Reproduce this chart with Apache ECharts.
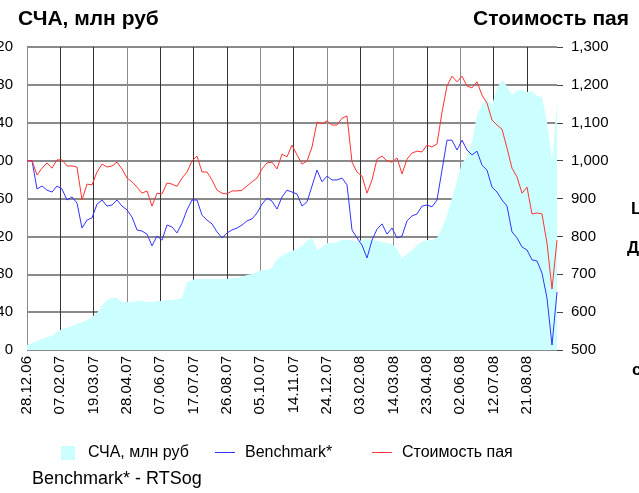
<!DOCTYPE html>
<html>
<head>
<meta charset="utf-8">
<script src="https://cdn.jsdelivr.net/npm/echarts@6/dist/echarts.min.js"></script>
<style>
  html, body { margin: 0; padding: 0; background: #fff; }
  #main { width: 639px; height: 493px; }
</style>
</head>
<body>
<div id="main"></div>
<script>
// подписи оси дат (шаг 40 дней)
var tickLabels = ['28.12.06', '07.02.07', '19.03.07', '28.04.07', '07.06.07', '17.07.07', '26.08.07', '05.10.07',
  '14.11.07', '24.12.07', '03.02.08', '14.03.08', '23.04.08', '02.06.08', '12.07.08', '21.08.08'];
var dayStep = 6; // точки через каждые 6 дней от 28.12.06

// СЧА, млн руб (левая ось)
var scha = [5.3, 7.4, 9.5, 11.6, 13.7, 14.8, 19, 22.2, 23.2, 25.3,
  27.5, 29.6, 31.7, 34.8, 39.1, 46.5, 52.8, 54.9, 54.9, 50.7,
  50.7, 50.7, 51.7, 51.7, 50.7, 50.7, 51.7, 51.7, 52.8, 52.8,
  53.9, 54.9, 71.8, 73.9, 74.9, 74.9, 74.9, 74.9, 74.9, 74.9,
  74.9, 76, 76, 77, 79.2, 80.3, 82.4, 84.5, 84.5, 86.6,
  96.1, 99.3, 102.4, 104.5, 106.6, 109.8, 115.1, 118.2, 105.6, 108.7,
  113, 113, 114, 116.2, 116.2, 116.2, 114, 116.2, 117.2, 116.2,
  115.1, 114, 113, 112, 106.6, 97.2, 101.4, 105.6, 110.9, 114,
  116.2, 116.2, 118.3, 128.8, 142.6, 160.5, 178.5, 197.5, 203.8, 219.6,
  248, 259.6, 264.9, 258.7, 276.7, 285, 278.8, 269.3, 273.5, 274.6,
  272.5, 273.5, 268.3, 267.2, 240.2, 200, 260.5];

// Benchmark* (правая ось)
var bench = [1000, 1000, 925, 933, 922, 917, 933, 925, 896, 904,
  888, 822, 843, 849, 885, 896, 880, 883, 896, 880,
  870, 851, 817, 814, 806, 775, 801, 790, 830, 825,
  809, 835, 870, 896, 896, 856, 843, 833, 812, 796,
  809, 817, 822, 830, 841, 846, 862, 885, 901, 893,
  872, 904, 922, 917, 912, 880, 891, 933, 975, 944,
  959, 949, 949, 954, 936, 817, 796, 777, 743, 790,
  819, 833, 806, 822, 796, 801, 841, 854, 859, 880,
  883, 878, 896, 975, 1054, 1054, 1028, 1054, 1028, 1015,
  1025, 988, 975, 930, 917, 896, 880, 812, 796, 772,
  764, 738, 735, 703, 637, 513, 653];

// Стоимость пая (правая ось)
var pai = [1000, 1000, 962, 980, 994, 980, 1002, 1002, 986, 986,
  983, 896, 938, 936, 970, 991, 983, 986, 996, 978,
  954, 944, 930, 914, 920, 880, 914, 912, 941, 938,
  932, 954, 970, 999, 1012, 970, 970, 949, 922, 914,
  912, 920, 920, 922, 933, 944, 954, 978, 994, 996,
  978, 1017, 1010, 1041, 1015, 991, 999, 1036, 1102, 1097,
  1105, 1094, 1094, 1112, 1118, 996, 970, 959, 914, 949,
  1004, 1012, 999, 996, 1007, 965, 1004, 1020, 1025, 1023,
  1041, 1036, 1044, 1128, 1197, 1223, 1208, 1223, 1197, 1192,
  1208, 1173, 1152, 1107, 1094, 1083, 1033, 980, 957, 914,
  930, 859, 862, 859, 782, 661, 790];

function toPairs(arr) {
  return arr.map(function (v, i) { return [i * dayStep, v]; });
}

var font = 'Liberation Sans';
var chart = echarts.init(document.getElementById('main'));

// цвета вертикальных линий сетки: часть светлее, последняя (край) не видна
var lightLines = [0, 3, 7, 9, 11, 13];
var vColors = [];
for (var i = 0; i < tickLabels.length; i++) vColors.push(lightLines.indexOf(i) >= 0 ? '#8a8a8a' : '#333');
vColors.push('rgba(0,0,0,0)');

var legendBase = {
  top: 445,
  padding: 0,
  itemWidth: 28,
  itemHeight: 14,
  selectedMode: false,
  itemStyle: { borderWidth: 0 },
  textStyle: { fontFamily: font, fontSize: 16, color: '#000' }
};

var option = {
  backgroundColor: '#fff',
  animation: false,
  title: [
    { text: 'СЧА, млн руб', left: 18, top: 9, padding: 0,
      textStyle: { fontFamily: font, fontWeight: 'bold', fontSize: 21, color: '#000' } },
    { text: 'Стоимость пая', left: 473, top: 9, padding: 0,
      textStyle: { fontFamily: font, fontWeight: 'bold', fontSize: 21, color: '#000' } },
    { text: 'Benchmark* - RTSog', left: 32, top: 470, padding: 0,
      textStyle: { fontFamily: font, fontWeight: 'normal', fontSize: 18, color: '#000' } }
  ],
  legend: [
    echarts.util.merge({ left: 55, data: [{ name: 'СЧА, млн руб', icon: 'path://M0,0L0,0M28,14L28,14M6,0h14v14h-14z' }] }, legendBase),
    echarts.util.merge({ left: 212, data: [{ name: 'Benchmark*', icon: 'path://M0,0L0,0M28,14L28,14M3,6h20v1h-20z' }] }, legendBase),
    echarts.util.merge({ left: 369, data: [{ name: 'Стоимость пая', icon: 'path://M0,0L0,0M28,14L28,14M3,6h20v1h-20z' }] }, legendBase)
  ],
  graphic: [
    { type: 'text', style: { x: 631, y: 209, text: 'L', font: 'bold 17px "Liberation Sans"', fill: '#000', verticalAlign: 'middle' } },
    { type: 'text', style: { x: 627, y: 248, text: 'Д', font: 'bold 17px "Liberation Sans"', fill: '#000', verticalAlign: 'middle' } },
    { type: 'text', style: { x: 632, y: 370, text: 'с', font: 'bold 17px "Liberation Sans"', fill: '#000', verticalAlign: 'middle' } }
  ],
  grid: { left: 27, right: 82, top: 47, bottom: 143, containLabel: false, outerBoundsMode: 'none' },
  xAxis: {
    type: 'value',
    min: 0,
    max: 636,
    interval: 40,
    axisLine: { show: false },
    axisTick: { show: false },
    axisLabel: {
      rotate: 90,
      margin: 6,
      fontFamily: font,
      fontSize: 15,
      color: '#000',
      showMaxLabel: false,
      formatter: function (v) { return tickLabels[v / 40] || ''; }
    },
    splitLine: { show: true, lineStyle: { color: vColors, width: 1 } }
  },
  yAxis: [
    {
      type: 'value',
      min: 0,
      max: 320,
      interval: 40,
      axisLine: { show: false },
      axisTick: { show: false },
      axisLabel: { margin: 14, fontFamily: font, fontSize: 15, color: '#000' },
      splitLine: { show: true, lineStyle: { color: '#8a8a8a', width: 2 } }
    },
    {
      type: 'value',
      min: 500,
      max: 1300,
      interval: 100,
      axisLine: { show: false },
      axisTick: { show: true, length: 6, lineStyle: { color: '#444' } },
      axisLabel: {
        margin: 14, fontFamily: font, fontSize: 15, color: '#000',
        formatter: function (v) {
          return v >= 1000 ? Math.floor(v / 1000) + ',' + String(v % 1000).padStart(3, '0') : String(v);
        }
      },
      splitLine: { show: false }
    }
  ],
  series: [
    {
      name: 'СЧА, млн руб',
      type: 'line',
      yAxisIndex: 0,
      symbol: 'none',
      color: '#ccffff',
      lineStyle: { width: 0 },
      areaStyle: { color: '#ccffff', opacity: 1 },
      data: toPairs(scha)
    },
    {
      name: 'Benchmark*',
      type: 'line',
      yAxisIndex: 1,
      symbol: 'none',
      color: '#3333ff',
      lineStyle: { width: 1, color: '#3333ff' },
      data: toPairs(bench)
    },
    {
      name: 'Стоимость пая',
      type: 'line',
      yAxisIndex: 1,
      symbol: 'none',
      color: '#ff3333',
      lineStyle: { width: 1, color: '#ff3333' },
      data: toPairs(pai)
    }
  ]
};

chart.setOption(option);
window.onresize = chart.resize;
</script>
</body>
</html>
